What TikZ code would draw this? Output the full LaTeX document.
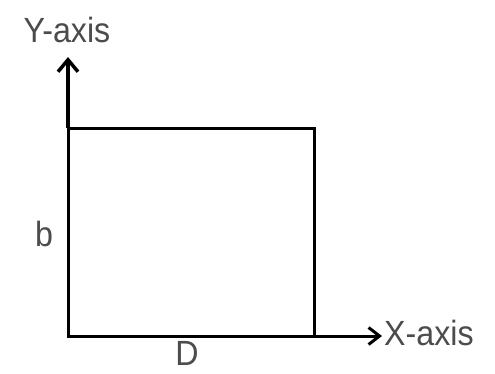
\documentclass[tikz,border=0pt]{standalone}
\usepackage{fontspec}
\setmainfont{Liberation Sans}
\usetikzlibrary{arrows.meta}
\definecolor{lbl}{gray}{0.3}
\newcommand{\narrowtxt}[1]{\scalebox{0.92}[1]{#1}}
\begin{document}
\begin{tikzpicture}[x=1pt,y=-1pt,
  lab/.style={text=lbl,font=\fontsize{35}{35}\selectfont,inner sep=0pt},
  edge/.style={draw=black,line width=3pt},
  axis/.style={draw=black,line width=4pt,-{Straight Barb[length=12pt,width=20pt,line width=3.5pt]}}]
\useasboundingbox (0,0) rectangle (495,373);
\coordinate (bl) at (68,336);
\coordinate (tl) at (68,128);
\coordinate (tr) at (314,128);
\coordinate (br) at (314,336);
\coordinate (ytip) at (68,57);
\coordinate (xtip) at (382,336);
\draw[edge] (tl) -- (tr) -- (br) -- (bl) -- cycle;
\draw[axis] (tl) -- (ytip);
\draw[edge,-{Straight Barb[length=11pt,width=17pt,line width=3pt]}] (br) -- (xtip);
\node[lab] (ylab) at (67,30) {\narrowtxt{Y-axis}};
\node[lab,anchor=west] (xlab) at (384,333) {\narrowtxt{X-axis}};
\node[lab] (b) at (44,234) {\narrowtxt{b}};
\node[lab] (d) at (187,353) {\narrowtxt{D}};
\end{tikzpicture}
\end{document}
